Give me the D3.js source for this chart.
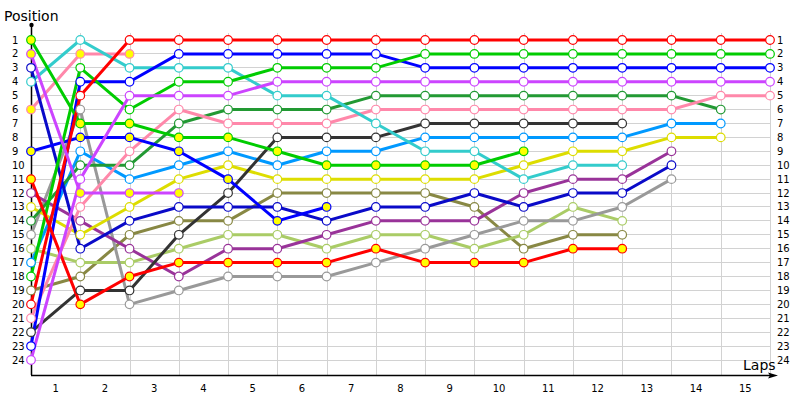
<!DOCTYPE html>
<html>
<head>
<meta charset="utf-8">
<script src="https://cdn.jsdelivr.net/npm/d3@7"></script>
<style>
  html, body { margin: 0; padding: 0; background: #fff; }
  svg { display: block; }
  text { font-family: "DejaVu Sans", Verdana, sans-serif; fill: #000; }
</style>
</head>
<body>
<svg id="chart" width="800" height="400"></svg>
<script>
// ---- Data ----
const laps = d3.range(0, 16);           // lap 0 = grid
const lapLabels = d3.range(1, 16);      // labels between gridlines
const positionsTicks = d3.range(1, 25);

// positions per lap (index = lap 0..15), null = not running
const redA      = [20, 5, 1, 1, 1, 1, 1, 1, 1, 1, 1, 1, 1, 1, 1, 1];
const redB      = [11, 20, 18, 17, 17, 17, 17, 16, 17, 17, 17, 16, 16];
const greenA    = [1, 7, 7, 8, 8, 9, 10, 10, 10, 10, 9];
const greenB    = [18, 3, 6, 4, 4, 3, 3, 3, 2, 2, 2, 2, 2, 2, 2, 2];
const blueA     = [23, 4, 4, 2, 2, 2, 2, 2, 3, 3, 3, 3, 3, 3, 3, 3];
const blueB     = [9, 8, 8, 9, 11, 14, 13];
const navy      = [3, 16, 14, 13, 13, 13, 14, 13, 13, 12, 13, 12, 12, 10];
const cyan      = [4, 1, 3, 3, 3, 5, 5, 7, 9, 9, 11, 10, 10];
const pinkA     = [6, 2, 2];
const pinkB     = [21, 13, 9, 6, 7, 7, 7, 6, 6, 6, 6, 6, 6, 6, 5, 5];
const darkGreen = [14, 10, 10, 7, 6, 6, 6, 5, 5, 5, 5, 5, 5, 5, 6];
const darkGray  = [22, 19, 19, 15, 12, 8, 8, 8, 7, 7, 7, 7, 7];
const lightBlue = [17, 9, 11, 10, 9, 10, 9, 9, 8, 8, 8, 8, 8, 7, 7];
const yellow    = [13, 15, 13, 11, 10, 11, 11, 11, 11, 11, 10, 9, 9, 8, 8];
const purple    = [12, 14, 16, 18, 16, 16, 15, 14, 14, 14, 12, 11, 11, 9];
const gray      = [15, 6, 20, 19, 18, 18, 18, 17, 16, 15, 14, 14, 13, 11];
const lightGreen= [16, 17, 17, 16, 15, 15, 16, 15, 15, 16, 15, 13, 14];
const olive     = [19, 18, 15, 14, 14, 12, 12, 12, 12, 13, 16, 15, 15];
const magentaA  = [2, 12, 12, 12];
const magentaB  = [24, 11, 5, 5, 5, 4, 4, 4, 4, 4, 4, 4, 4, 4, 4, 4];

const seriesData   = [olive, lightGreen, gray, purple, yellow, lightBlue, darkGray, darkGreen,
                      pinkB, pinkA, cyan, navy, blueB, blueA, greenB, greenA, redB, redA, magentaA, magentaB];
const seriesColors = ["#888844", "#aacc66", "#999999", "#993399", "#dddd00", "#0099ff", "#333333", "#229933",
                      "#ff88aa", "#ff88aa", "#33cccc", "#0a0ac8", "#0000ff", "#0000ff", "#00cc00", "#00cc00",
                      "#ff0000", "#ff0000", "#cc44ff", "#cc44ff"];
const seriesMarker = ["#ffffff", "#ffffff", "#ffffff", "#ffffff", "#ffffff", "#ffffff", "#ffffff", "#ffffff",
                      "#ffffff", "#ffff00", "#ffffff", "#ffffff", "#ffff00", "#ffffff", "#ffffff", "#ffff00",
                      "#ffff00", "#ffffff", "#ffff00", "#ffffff"];

// ---- Layout ----
const svg = d3.select("#chart");
const x = d3.scaleLinear().domain([0, 15]).range([31, 770]);
const y = d3.scaleLinear().domain([1, 24]).range([40, 360]);
const axisY = 375;

// gridlines
const grid = svg.append("g");
grid.selectAll("line.h").data(positionsTicks).join("line")
  .attr("x1", x(0)).attr("x2", x(15))
  .attr("y1", d => y(d)).attr("y2", d => y(d))
  .attr("stroke", "#d2d2d2").attr("stroke-width", 1).attr("shape-rendering", "crispEdges");
grid.selectAll("line.v").data(laps.slice(1)).join("line")
  .attr("x1", d => Math.round(x(d)) + 0.5).attr("x2", d => Math.round(x(d)) + 0.5)
  .attr("y1", 33).attr("y2", axisY)
  .attr("stroke", "#d2d2d2").attr("stroke-width", 1);

// axes
svg.append("line").attr("x1", x(0) + 0.5).attr("x2", x(0) + 0.5).attr("y1", 25).attr("y2", axisY)
  .attr("stroke", "#000").attr("stroke-width", 1.5);
svg.append("circle").attr("cx", x(0) + 0.5).attr("cy", 25).attr("r", 2.2).attr("fill", "#000");
svg.append("line").attr("x1", x(0)).attr("x2", 772).attr("y1", axisY + 0.5).attr("y2", axisY + 0.5)
  .attr("stroke", "#000").attr("stroke-width", 1.5);
svg.append("path").attr("d", `M778,${axisY + 0.5} L768,${axisY - 2.5} L770,${axisY + 0.5} L768,${axisY + 3.5} Z`)
  .attr("fill", "#000");

// tick labels
svg.append("g").selectAll("text").data(positionsTicks).join("text")
  .attr("x", 12).attr("y", d => y(d) + 3.5).attr("font-size", 10).text(d => d);
svg.append("g").selectAll("text").data(positionsTicks).join("text")
  .attr("x", 777).attr("y", d => y(d) + 3.5).attr("font-size", 10).text(d => d);
svg.append("g").selectAll("text").data(lapLabels).join("text")
  .attr("x", d => x(d - 0.5)).attr("y", 392).attr("text-anchor", "middle").attr("font-size", 10).text(d => d);

svg.append("text").attr("x", 4).attr("y", 21).attr("font-size", 14).text("Position");
svg.append("text").attr("x", 743).attr("y", 370).attr("font-size", 14).text("Laps");

// series lines
const line = d3.line().x((d, i) => x(i)).y(d => y(d));
svg.append("g").selectAll("path").data(seriesData).join("path")
  .attr("d", d => line(d))
  .attr("fill", "none")
  .attr("stroke", (d, i) => seriesColors[i])
  .attr("stroke-width", 3)
  .attr("stroke-linejoin", "round");

// markers
seriesData.forEach((s, i) => {
  svg.append("g").selectAll("circle").data(s).join("circle")
    .attr("cx", (d, j) => x(j)).attr("cy", d => y(d)).attr("r", 4.3)
    .attr("fill", seriesMarker[i])
    .attr("stroke", seriesColors[i]).attr("stroke-width", 1.2);
});
</script>
</body>
</html>
